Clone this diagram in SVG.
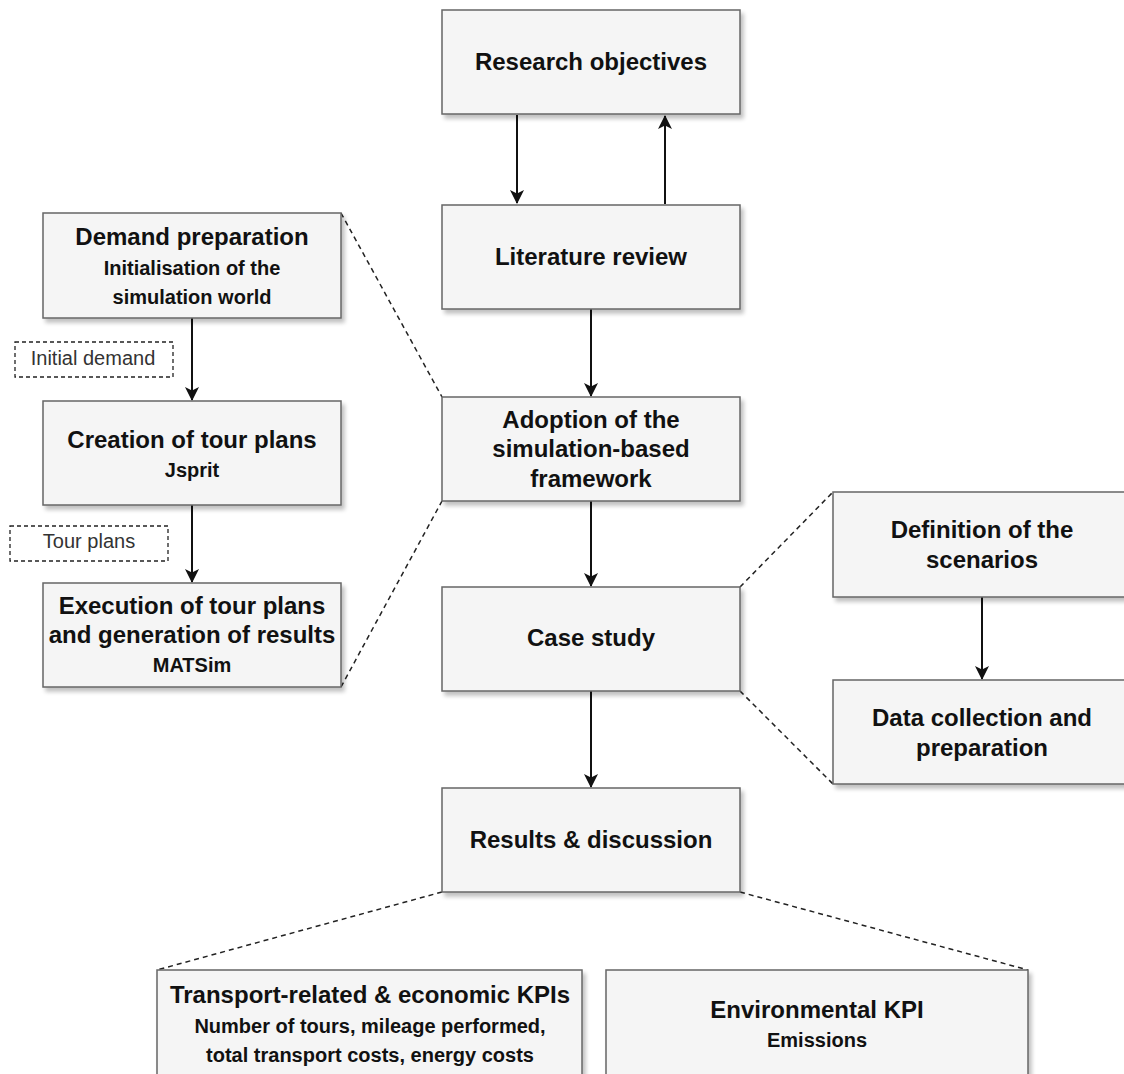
<svg xmlns="http://www.w3.org/2000/svg" width="1124" height="1074" viewBox="0 0 1124 1074">
<style>
.box{fill:#f5f5f5;stroke:#666;stroke-width:1.5;filter:url(#sh)}
.t{font-family:"Liberation Sans",Arial,sans-serif;font-weight:bold;font-size:24px;fill:#111;text-anchor:middle}
.s{font-family:"Liberation Sans",Arial,sans-serif;font-weight:bold;font-size:20px;fill:#111;text-anchor:middle}
.lbl{font-family:"Liberation Sans",Arial,sans-serif;font-size:20px;fill:#333;text-anchor:middle}
.lb{fill:#fff;stroke:#222;stroke-width:1.3;stroke-dasharray:4 3}
.c{stroke:#111;stroke-width:2;fill:none}
.d{stroke:#222;stroke-width:1.5;fill:none;stroke-dasharray:5 4}
</style>
<defs>
<filter id="sh" x="-10%" y="-10%" width="130%" height="140%">
<feGaussianBlur in="SourceAlpha" stdDeviation="2"/>
<feOffset dx="3" dy="4" result="b"/>
<feComponentTransfer><feFuncA type="linear" slope="0.25"/></feComponentTransfer>
<feMerge><feMergeNode/><feMergeNode in="SourceGraphic"/></feMerge>
</filter>
<marker id="ah" viewBox="0 0 14 14" refX="13" refY="7" markerWidth="14" markerHeight="14" markerUnits="userSpaceOnUse" orient="auto">
<path d="M0,0 L14,7 L0,14 L3.5,7 Z" fill="#111"/>
</marker>
</defs>
<rect width="1124" height="1074" fill="#fff"/>

<g id="connectors">
<line class="c" x1="517" y1="115" x2="517" y2="203" marker-end="url(#ah)"/>
<line class="c" x1="665" y1="204" x2="665" y2="116" marker-end="url(#ah)"/>
<line class="c" x1="591" y1="309" x2="591" y2="396" marker-end="url(#ah)"/>
<line class="c" x1="591" y1="501" x2="591" y2="586" marker-end="url(#ah)"/>
<line class="c" x1="591" y1="691" x2="591" y2="787" marker-end="url(#ah)"/>
<line class="c" x1="192" y1="318" x2="192" y2="400" marker-end="url(#ah)"/>
<line class="c" x1="192" y1="505" x2="192" y2="582" marker-end="url(#ah)"/>
<line class="c" x1="982" y1="597" x2="982" y2="679" marker-end="url(#ah)"/>
<line class="d" x1="341" y1="213" x2="442" y2="397"/>
<line class="d" x1="341" y1="687" x2="442" y2="501"/>
<line class="d" x1="740" y1="587" x2="833" y2="492"/>
<line class="d" x1="740" y1="691" x2="833" y2="784"/>
<line class="d" x1="442" y1="892" x2="157" y2="970"/>
<line class="d" x1="740" y1="892" x2="1028" y2="970"/>
</g>

<g id="research-objectives">
<rect class="box" x="442" y="10" width="298" height="104"/>
<text class="t" x="591" y="70">Research objectives</text>
</g>
<g id="literature-review">
<rect class="box" x="442" y="205" width="298" height="104"/>
<text class="t" x="591" y="265">Literature review</text>
</g>
<g id="adoption">
<rect class="box" x="442" y="397" width="298" height="104"/>
<text class="t" x="591" y="428">Adoption of the</text>
<text class="t" x="591" y="457">simulation-based</text>
<text class="t" x="591" y="487">framework</text>
</g>
<g id="case-study">
<rect class="box" x="442" y="587" width="298" height="104"/>
<text class="t" x="591" y="646">Case study</text>
</g>
<g id="results">
<rect class="box" x="442" y="788" width="298" height="104"/>
<text class="t" x="591" y="848">Results &amp; discussion</text>
</g>

<g id="demand-preparation">
<rect class="box" x="43" y="213" width="298" height="105"/>
<text class="t" x="192" y="245">Demand preparation</text>
<text class="s" x="192" y="275">Initialisation of the</text>
<text class="s" x="192" y="304">simulation world</text>
</g>
<g id="creation-tour-plans">
<rect class="box" x="43" y="401" width="298" height="104"/>
<text class="t" x="192" y="448">Creation of tour plans</text>
<text class="s" x="192" y="477">Jsprit</text>
</g>
<g id="execution">
<rect class="box" x="43" y="583" width="298" height="104"/>
<text class="t" x="192" y="614">Execution of tour plans</text>
<text class="t" x="192" y="643">and generation of results</text>
<text class="s" x="192" y="672">MATSim</text>
</g>
<g id="label-initial-demand">
<rect class="lb" x="15" y="342" width="158" height="35"/>
<text class="lbl" x="93" y="365">Initial demand</text>
</g>
<g id="label-tour-plans">
<rect class="lb" x="10" y="526" width="158" height="35"/>
<text class="lbl" x="89" y="548">Tour plans</text>
</g>

<g id="definition-scenarios">
<rect class="box" x="833" y="492" width="293" height="105"/>
<text class="t" x="982" y="538">Definition of the</text>
<text class="t" x="982" y="568">scenarios</text>
</g>
<g id="data-collection">
<rect class="box" x="833" y="680" width="293" height="104"/>
<text class="t" x="982" y="726">Data collection and</text>
<text class="t" x="982" y="756">preparation</text>
</g>

<g id="transport-kpis">
<rect class="box" x="157" y="970" width="425" height="120"/>
<text class="t" x="370" y="1003">Transport-related &amp; economic KPIs</text>
<text class="s" x="370" y="1033">Number of tours, mileage performed,</text>
<text class="s" x="370" y="1062">total transport costs, energy costs</text>
</g>
<g id="environmental-kpi">
<rect class="box" x="606" y="970" width="422" height="120"/>
<text class="t" x="817" y="1018">Environmental KPI</text>
<text class="s" x="817" y="1047">Emissions</text>
</g>
</svg>
